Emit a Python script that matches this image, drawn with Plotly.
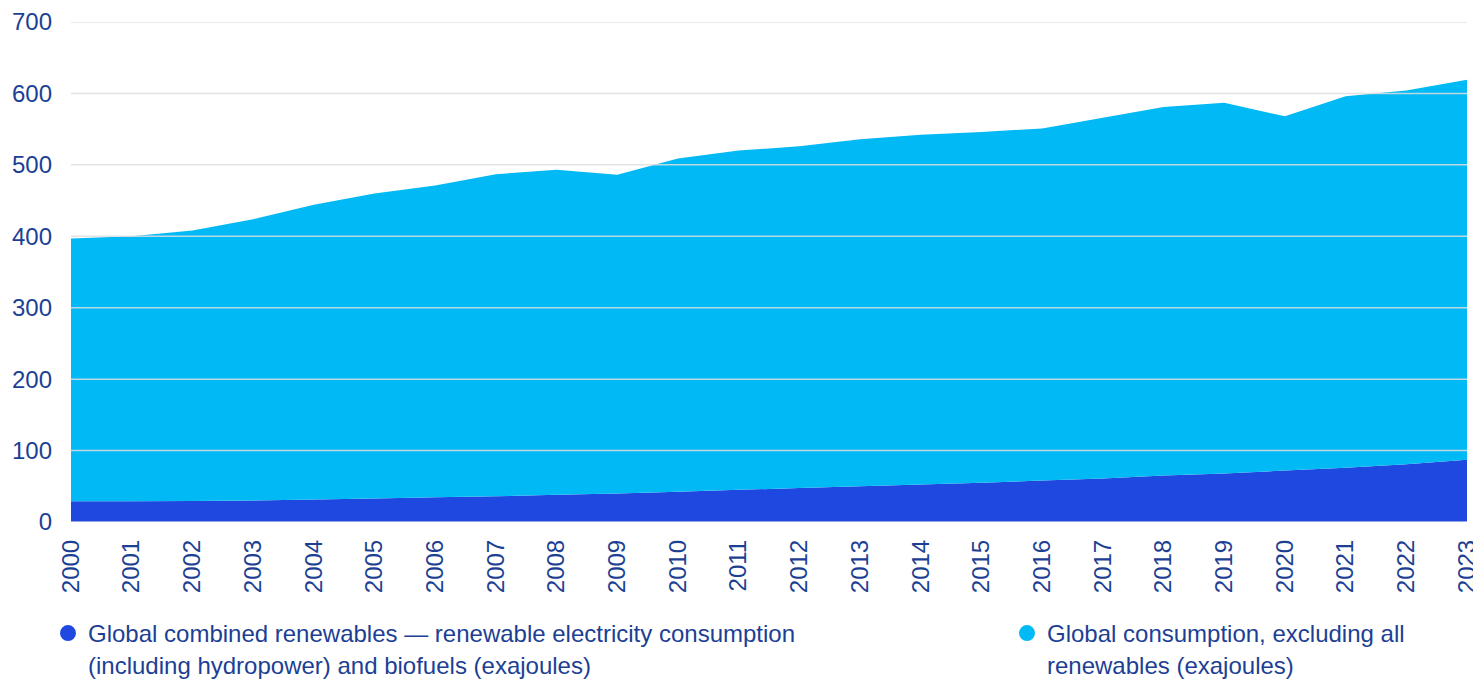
import plotly.graph_objects as go

years = list(range(2000, 2024))
renewables = [29, 29, 29.5, 30, 31.5, 33, 34.5, 36, 38, 40, 42.5, 45, 47.5, 50,
              52.5, 55, 58, 61, 65, 68, 72, 76, 81, 87]
total = [397, 400, 408, 424, 444, 460, 471, 487, 493, 486, 509, 520, 526, 536,
         542, 546, 551, 566, 581, 587, 568, 596, 604, 619]
non_renewables = [round(t - r, 1) for t, r in zip(total, renewables)]
y_ticks = [0, 100, 200, 300, 400, 500, 600, 700]

name_ren = "Global combined renewables — renewable electricity consumption<br>(including hydropower) and biofuels (exajoules)"
name_non = "Global consumption, excluding all<br>renewables (exajoules)"

DARK = "#1F48E0"
LIGHT = "#00B9F5"
TEXT = "#1C3F94"
FONT = "Liberation Sans"

fig = go.Figure()
fig.add_trace(go.Scatter(x=years, y=renewables, stackgroup="one", mode="none",
                         fillcolor=DARK, showlegend=False, name=name_ren))
fig.add_trace(go.Scatter(x=years, y=non_renewables, stackgroup="one", mode="none",
                         fillcolor=LIGHT, showlegend=False, name=name_non))
# legend entries with circle symbols
fig.add_trace(go.Scatter(x=[None], y=[None], mode="markers", name=name_ren,
                         marker=dict(color=DARK, size=20, symbol="circle"),
                         legend="legend"))
fig.add_trace(go.Scatter(x=[None], y=[None], mode="markers", name=name_non,
                         marker=dict(color=LIGHT, size=20, symbol="circle"),
                         legend="legend2"))

shapes = []
for v in y_ticks:
    shapes.append(dict(type="line", xref="paper", x0=0, x1=1, yref="y", y0=v, y1=v,
                       line=dict(color="rgba(222,222,222,0.85)", width=1.5),
                       layer="above"))

legend_common = dict(orientation="h", yanchor="top", xanchor="left",
                     font=dict(family=FONT, size=24, color=TEXT),
                     valign="top", itemsizing="trace",
                     bgcolor="rgba(0,0,0,0)")

PLOT_W = 1473 - 63 - 14
PLOT_H = 675 - 14 - 161

fig.update_layout(
    width=1473, height=675,
    margin=dict(l=63, r=14, t=14, b=161, autoexpand=False),
    paper_bgcolor="white", plot_bgcolor="white",
    font=dict(family=FONT, size=24, color=TEXT),
    shapes=shapes,
    showlegend=True,
    legend=dict(x=-23 / PLOT_W, y=-89 / PLOT_H, **legend_common),
    legend2=dict(x=(1007 - 71) / PLOT_W, y=-89 / PLOT_H, **legend_common),
    xaxis=dict(range=[2000, 2023], tickmode="array", tickvals=years,
               ticktext=[str(y) for y in years], tickangle=-90,
               showgrid=False, zeroline=False, showline=False,
               ticks="", ticklabelstandoff=12, automargin=False,
               ticklabeloverflow="allow",
               tickfont=dict(family=FONT, size=24, color=TEXT)),
    yaxis=dict(range=[0, 700], tickmode="array", tickvals=y_ticks,
               showgrid=False, zeroline=False, showline=False,
               ticks="", ticklabelstandoff=18, automargin=False,
               ticklabeloverflow="allow",
               tickfont=dict(family=FONT, size=24, color=TEXT)),
)

fig.write_html("out.html")
